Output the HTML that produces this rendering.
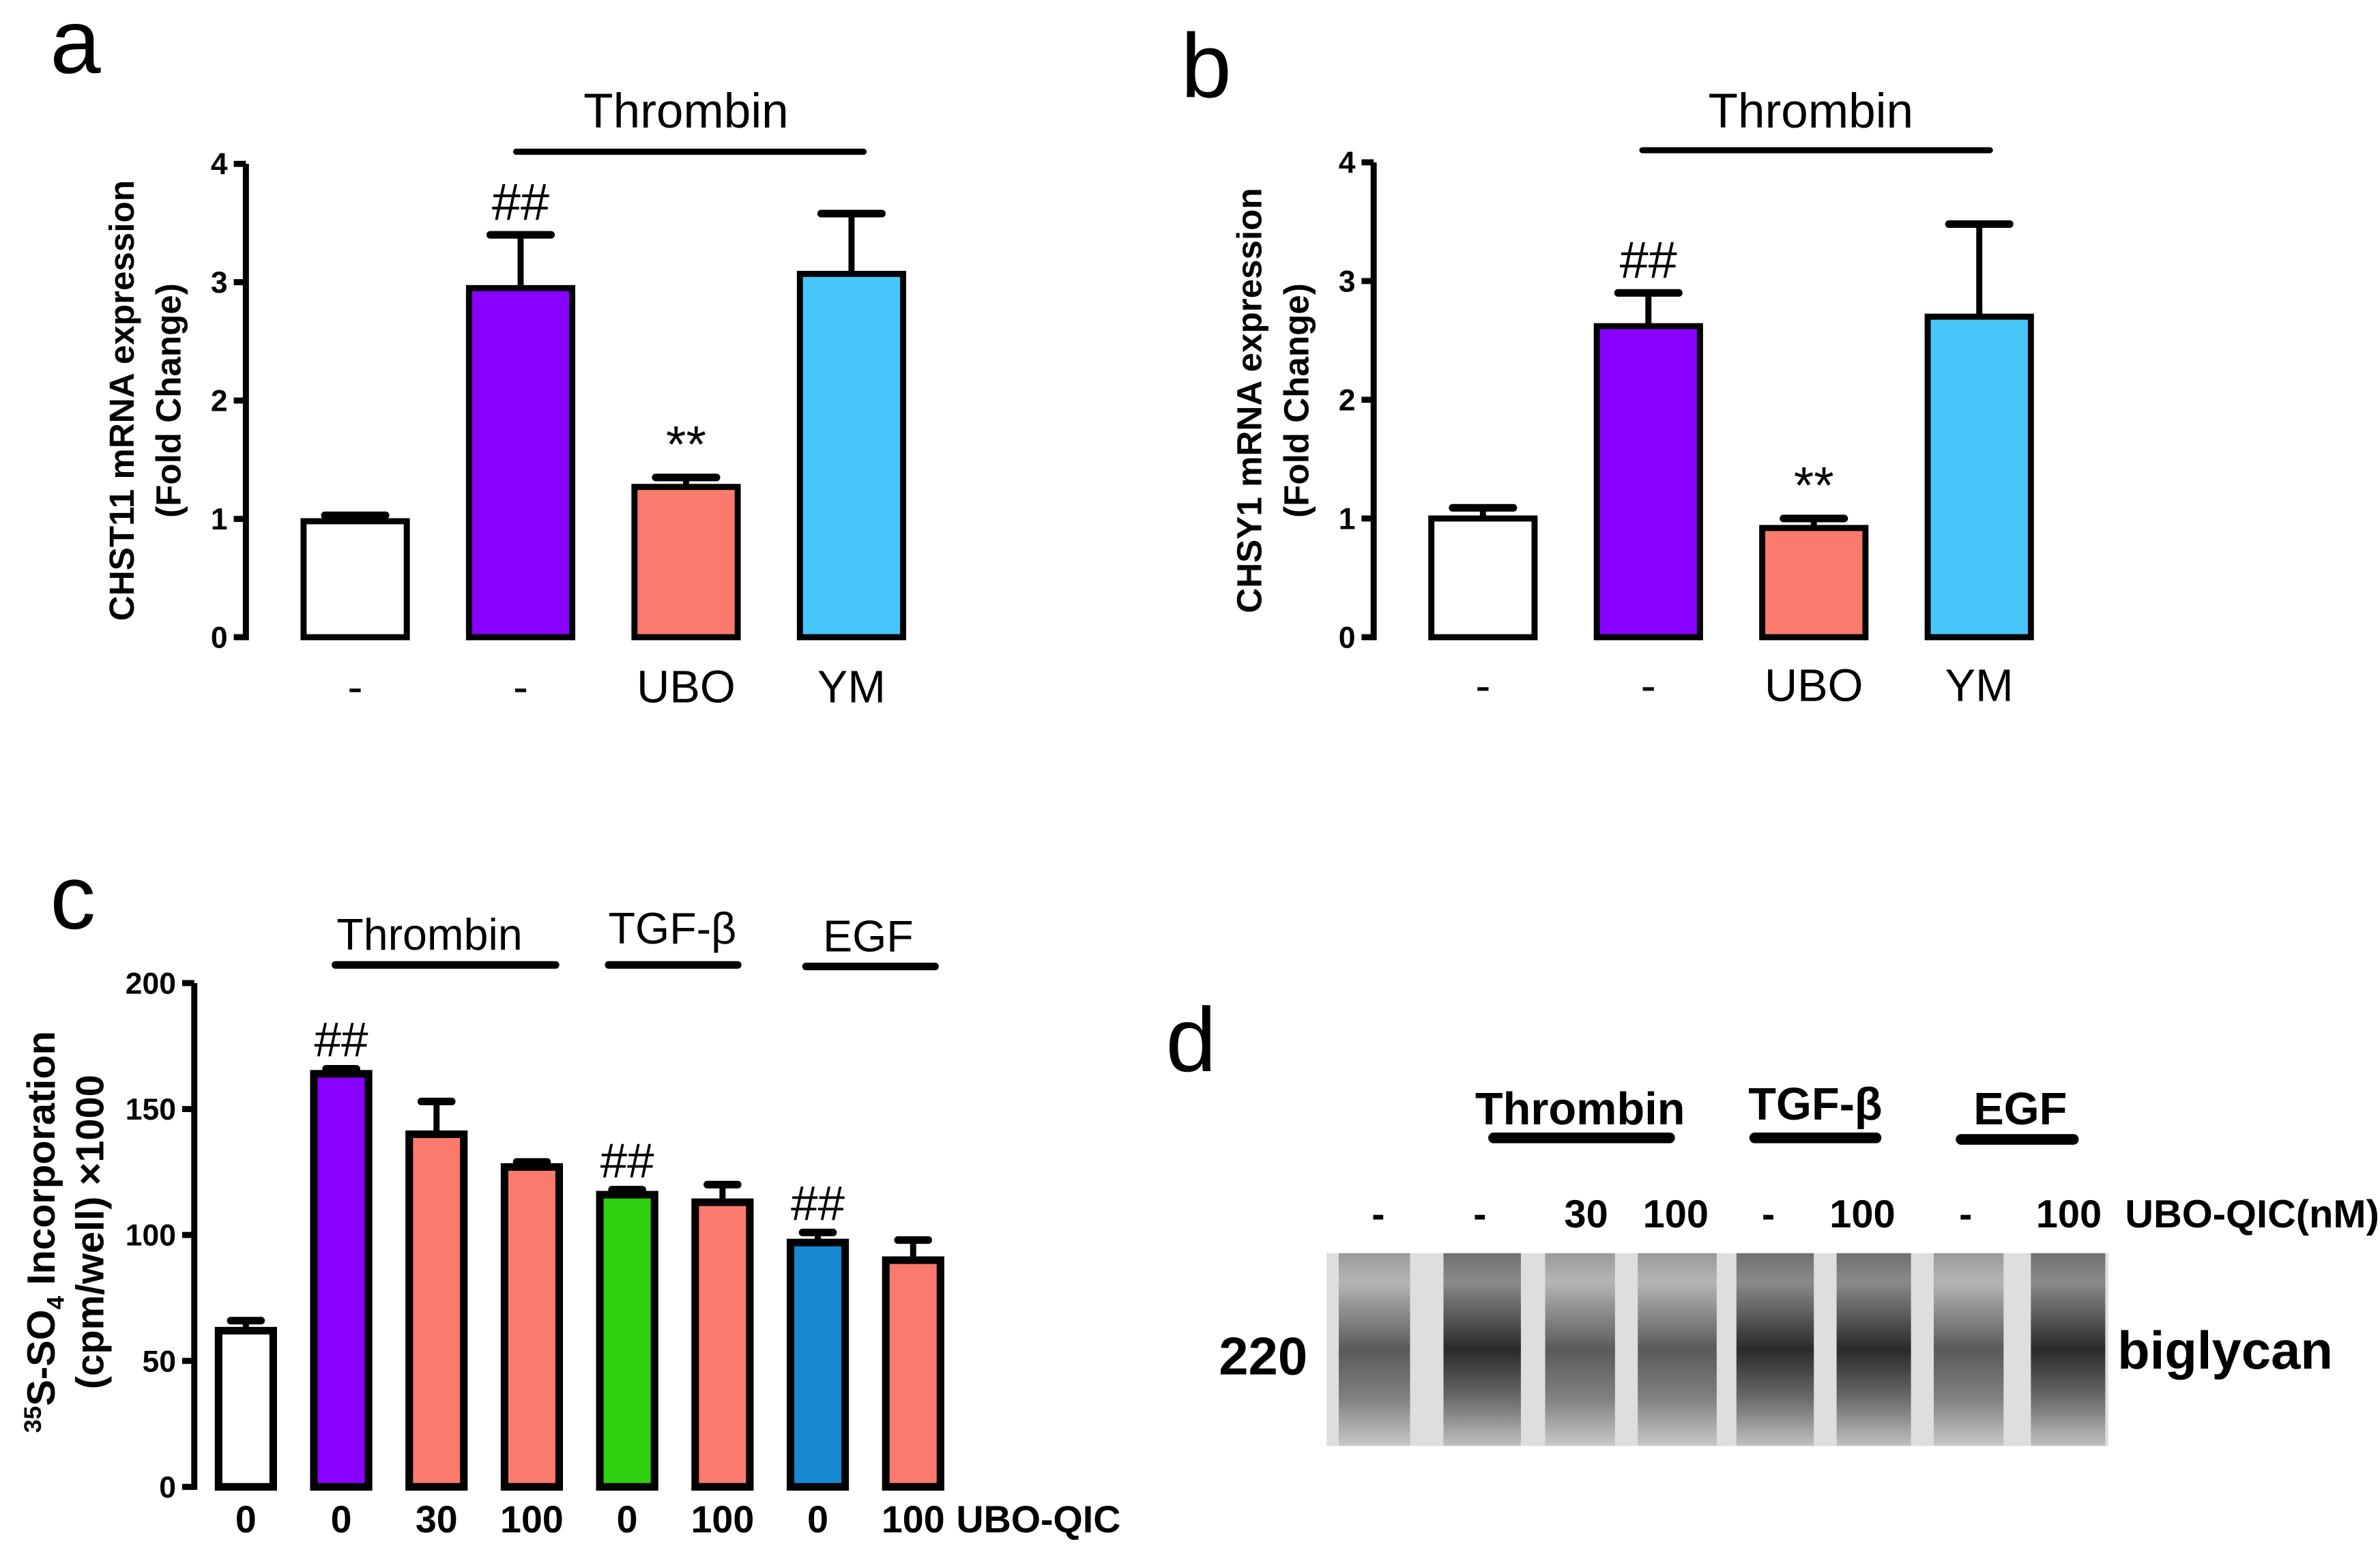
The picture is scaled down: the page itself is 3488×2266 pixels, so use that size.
<!DOCTYPE html>
<html><head><meta charset="utf-8"><style>
html,body{margin:0;padding:0;background:#fff;}
svg{display:block;font-family:"Liberation Sans",sans-serif;}
.n{font-family:"Liberation Sans Narrow","Liberation Sans",sans-serif;font-weight:bold;}
</style></head><body>
<svg id="fig" width="3488" height="2266" viewBox="0 0 1568 1019" preserveAspectRatio="none" xmlns="http://www.w3.org/2000/svg">
<defs>
<linearGradient id="lane" x1="0" y1="0" x2="0" y2="1">
<stop offset="0" stop-color="#9a9a9a"/><stop offset="0.15" stop-color="#b5b5b5"/><stop offset="0.5" stop-color="#5a5a5a"/><stop offset="0.75" stop-color="#808080"/><stop offset="1" stop-color="#c8c8c8"/>
</linearGradient>
<linearGradient id="laneD" x1="0" y1="0" x2="0" y2="1">
<stop offset="0" stop-color="#707070"/><stop offset="0.15" stop-color="#8a8a8a"/><stop offset="0.5" stop-color="#2a2a2a"/><stop offset="0.75" stop-color="#6a6a6a"/><stop offset="1" stop-color="#c0c0c0"/>
</linearGradient>
</defs>
<g id="pa"></g>
<g id="pb"></g>
<g id="pc"></g>
<g id="pd"></g>
</svg>
<script>
const NS="http://www.w3.org/2000/svg";
// Panel a data
const aCats=["-","-","UBO","YM"];
const aVals=[0.98,2.95,1.27,3.07];
const aErr=[0.05,0.45,0.08,0.51];
const aMarks=["","##","**",""];
const aTicks=[0,1,2,3,4];
// Panel b data
const bCats=["-","-","UBO","YM"];
const bVals=[1.0,2.62,0.92,2.7];
const bErr=[0.09,0.28,0.08,0.78];
const bMarks=["","##","**",""];
const bTicks=[0,1,2,3,4];
// Panel c data
const cCats=["0","0","30","100","0","100","0","100"];
const cVals=[62,164,140,127,116,113,97,90];
const cErr=[4,2,13,2,2,7,4,8];
const cMarks=["","##","","","##","","##",""];
const cTicks=[0,50,100,150,200];
// Panel d lane labels
const dLabels=["-","-","30","100","-","100","-","100"];
const dDark=[0.5,0.8,0.7,0.45,0.85,1.0,0.55,0.75];

const aColors=["#fff","#8800ff","#fa7a6e","#47c6fa"];
const cColors=["#fff","#8800ff","#fa7a6e","#fa7a6e","#2cd00e","#fa7a6e","#1689d2","#fa7a6e"];

function el(parent,tag,attrs,text){const e=document.createElementNS(NS,tag);for(const k in attrs)e.setAttribute(k,attrs[k]);if(text!==undefined)e.textContent=text;parent.appendChild(e);return e;}

function barPanel(g,cfg){
  const y=v=>cfg.y0-(v-cfg.min)*(cfg.y0-cfg.y1)/(cfg.max-cfg.min);
  const ax=el(g,'line',{x1:cfg.ax,y1:cfg.y1,x2:cfg.ax,y2:cfg.y0+2,stroke:'#000','stroke-width':4});
  
  
  cfg.ticks.forEach(t=>{
    const tk=el(g,'line',{x1:cfg.ax-8,y1:y(t),x2:cfg.ax,y2:y(t),stroke:'#000','stroke-width':4});
    
    
    const tl=el(g,'text',{x:cfg.ax-12,y:y(t)+7,'text-anchor':'end','font-size':cfg.tfs,class:'n'},t);
    
    
  });
  cfg.vals.forEach((v,i)=>{
    const cx=cfg.x0+i*cfg.step;
    const top=y(v), et=y(v+cfg.err[i]);
    const eb=el(g,'line',{x1:cx,y1:top,x2:cx,y2:et,stroke:'#000','stroke-width':4});
    
    
    const ec=el(g,'line',{x1:cx-cfg.cap,y1:et,x2:cx+cfg.cap,y2:et,stroke:'#000','stroke-width':5,'stroke-linecap':'round'});
    
    
    const r=el(g,'rect',{x:cx-cfg.bw/2,y:top,width:cfg.bw,height:y(cfg.min)-top,fill:cfg.colors[i],stroke:'#000','stroke-width':cfg.sw});
    
    
    const lb=el(g,'text',{x:cx,y:cfg.labY,'text-anchor':'middle','font-size':cfg.lfs,class:cfg.lcls},cfg.cats[i]);
    
    
    if(cfg.marks[i]){
      const m=el(g,'text',{x:cx,y:et-cfg.mOff,'text-anchor':'middle','font-size':cfg.mfs},cfg.marks[i]);
      
      
    }
  });
}

const pa=document.getElementById('pa');
barPanel(pa,{ax:162,y0:420,y1:108,min:0,max:4,ticks:aTicks,tfs:20,vals:aVals,err:aErr,colors:aColors,cats:aCats,marks:aMarks,x0:234,step:109,bw:68,cap:20,sw:4,labY:463,lfs:30,lcls:'',mOff:10,mfs:34});
const pb=document.getElementById('pb');
barPanel(pb,{ax:905,y0:420,y1:107,min:0,max:4,ticks:bTicks,tfs:20,vals:bVals,err:bErr,colors:aColors,cats:bCats,marks:bMarks,x0:977,step:109,bw:68,cap:20,sw:4,labY:462,lfs:30,lcls:'',mOff:10,mfs:34});
const pc=document.getElementById('pc');
barPanel(pc,{ax:128,y0:980,y1:648,min:0,max:200,ticks:cTicks,tfs:20,vals:cVals,err:cErr,colors:cColors,cats:cCats,marks:cMarks,x0:162,step:62.8,bw:36,cap:10,sw:5,labY:1010,lfs:25,lcls:'n',mOff:8,mfs:32});
</script>
<script>
(function(){
function t(p,a,txt,name){const e=document.createElementNS(NS,'text');for(const k in a)e.setAttribute(k,a[k]);e.textContent=txt;p.appendChild(e);return e;}
function ln(p,x1,y1,x2,y2,w,name){const e=document.createElementNS(NS,'line');e.setAttribute('x1',x1);e.setAttribute('y1',y1);e.setAttribute('x2',x2);e.setAttribute('y2',y2);e.setAttribute('stroke','#000');e.setAttribute('stroke-width',w);e.setAttribute('stroke-linecap','round');p.appendChild(e);}
const pa=document.getElementById('pa'),pb=document.getElementById('pb'),pc=document.getElementById('pc'),pd=document.getElementById('pd');
// panel a
t(pa,{x:33,y:48,'font-size':60},'a','panel-letter-a');
t(pa,{x:452,y:84,'text-anchor':'middle','font-size':32},'Thrombin','thrombin-label');
ln(pa,340,100,569,100,4,'thrombin-bracket');
t(pa,{x:0,y:0,transform:'translate(88,264) rotate(-90)','text-anchor':'middle','font-size':23,'font-weight':'bold'},'CHST11 mRNA expression','y-axis-title');
t(pa,{x:0,y:0,transform:'translate(119,264) rotate(-90)','text-anchor':'middle','font-size':23,'font-weight':'bold'},'(Fold Change)','y-axis-title-unit');
// panel b
t(pb,{x:778,y:64,'font-size':60},'b','panel-letter-b');
t(pb,{x:1193,y:84,'text-anchor':'middle','font-size':32},'Thrombin','thrombin-label');
ln(pb,1082,99,1311,99,4,'thrombin-bracket');
t(pb,{x:0,y:0,transform:'translate(831,264) rotate(-90)','text-anchor':'middle','font-size':23,'font-weight':'bold'},'CHSY1 mRNA expression','y-axis-title');
t(pb,{x:0,y:0,transform:'translate(862,264) rotate(-90)','text-anchor':'middle','font-size':23,'font-weight':'bold'},'(Fold Change)','y-axis-title-unit');
// panel c
t(pc,{x:33,y:612,'font-size':60},'c','panel-letter-c');
t(pc,{x:283,y:626,'text-anchor':'middle','font-size':29},'Thrombin','thrombin-label');
ln(pc,221,636,366,636,5,'thrombin-bracket');
t(pc,{x:443,y:622,'text-anchor':'middle','font-size':29},'TGF-β','tgf-label');
ln(pc,401,636,486,636,5,'tgf-bracket');
t(pc,{x:572,y:627,'text-anchor':'middle','font-size':29},'EGF','egf-label');
ln(pc,531,637,616,637,5,'egf-bracket');
t(pc,{x:630,y:1010,'font-size':25,class:'n'},'UBO-QIC','x-axis-title');
const yt=t(pc,{x:0,y:0,transform:'translate(36,812) rotate(-90)','text-anchor':'middle','font-size':26,'font-weight':'bold'},'','y-axis-title');
yt.innerHTML='<tspan font-size="16" dy="-9">35</tspan><tspan dy="9">S-SO</tspan><tspan font-size="16" dy="6">4</tspan><tspan dy="-6">  Incorporation</tspan>';
t(pc,{x:0,y:0,transform:'translate(68,812) rotate(-90)','text-anchor':'middle','font-size':26,'font-weight':'bold'},'(cpm/well) ×1000','y-axis-title-unit');
// panel d
t(pd,{x:768,y:706,'font-size':60},'d','panel-letter-d');
t(pd,{x:1041,y:741,'text-anchor':'middle','font-size':30,class:'n'},'Thrombin','thrombin-label');
ln(pd,984,750,1100,750,7,'thrombin-bracket');
t(pd,{x:1196,y:738,'text-anchor':'middle','font-size':30,class:'n'},'TGF-β','tgf-label');
ln(pd,1156,750,1236,750,7,'tgf-bracket');
t(pd,{x:1331,y:741,'text-anchor':'middle','font-size':30,class:'n'},'EGF','egf-label');
ln(pd,1292,751,1366,751,7,'egf-bracket');
const lx=[908,975,1045,1104,1165,1227,1295,1363];
dLabels.forEach((d,i)=>{t(pd,{x:lx[i],y:809,'text-anchor':'middle','font-size':26,class:'n'},d,'lane-label');});
t(pd,{x:1400,y:809,'font-size':26,class:'n'},'UBO-QIC(nM)','ubo-qic-label');
const bg=document.createElementNS(NS,'rect');
bg.setAttribute('x',874);bg.setAttribute('y',826);bg.setAttribute('width',515);bg.setAttribute('height',127);bg.setAttribute('fill','#dedede');


pd.appendChild(bg);
const lanes=[[882,929],[951,1002],[1018,1064],[1079,1131],[1144,1195],[1210,1259],[1274,1320],[1338,1387]];
lanes.forEach((l,i)=>{
  const r=document.createElementNS(NS,'rect');
  r.setAttribute('x',l[0]);r.setAttribute('y',826);r.setAttribute('width',l[1]-l[0]);r.setAttribute('height',127);
  r.setAttribute('fill',dDark[i]>0.7?'url(#laneD)':'url(#lane)');
  
  
  pd.appendChild(r);
});
t(pd,{x:803,y:906,'font-size':35,class:'n'},'220','molecular-weight-marker');
t(pd,{x:1395,y:902,'font-size':35,class:'n'},'biglycan','band-label');
})();
</script>
</body></html>
